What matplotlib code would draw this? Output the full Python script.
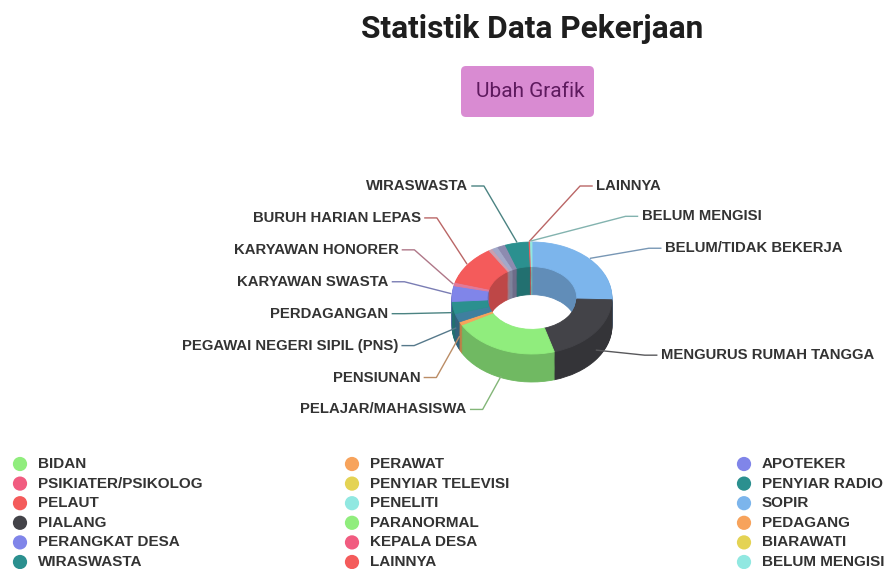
import matplotlib.pyplot as plt
import matplotlib.colors as mcolors
from matplotlib.patches import FancyBboxPatch
import numpy as np

# Slices, clockwise from 12 o'clock (values in percent)
slice_names = ["BELUM/TIDAK BEKERJA", "MENGURUS RUMAH TANGGA", "PELAJAR/MAHASISWA",
               "PENSIUNAN", "PEGAWAI NEGERI SIPIL (PNS)", "PERDAGANGAN",
               "KARYAWAN SWASTA", "KARYAWAN HONORER", "BURUH HARIAN LEPAS",
               "", "", "", "WIRASWASTA", "LAINNYA", "BELUM MENGISI"]
slice_values = [25.5, 20.0, 21.5, 1.0, 2.5, 3.5, 4.5, 1.0, 11.5,
                0.8, 1.2, 1.6, 4.8, 0.3, 0.3]
slice_colors = ["#7cb5ec", "#434348", "#90ed7d", "#f7a35c", "#3f7f9f", "#2b908f",
                "#8085e9", "#e07a9a", "#f45b5b", "#c9a0b0", "#a3a9c9", "#8d8bb0",
                "#2b908f", "#f45b5b", "#91e8e1"]

# Legend (row-major, 3 per row)
legend_names = ["BIDAN", "PERAWAT", "APOTEKER",
                "PSIKIATER/PSIKOLOG", "PENYIAR TELEVISI", "PENYIAR RADIO",
                "PELAUT", "PENELITI", "SOPIR",
                "PIALANG", "PARANORMAL", "PEDAGANG",
                "PERANGKAT DESA", "KEPALA DESA", "BIARAWATI",
                "WIRASWASTA", "LAINNYA", "BELUM MENGISI"]
legend_colors = ["#90ed7d", "#f7a35c", "#8085e9",
                 "#f15c80", "#e4d354", "#2b908f",
                 "#f45b5b", "#91e8e1", "#7cb5ec",
                 "#434348", "#90ed7d", "#f7a35c",
                 "#8085e9", "#f15c80", "#e4d354",
                 "#2b908f", "#f45b5b", "#91e8e1"]

# label slots: side (-1 left, 1 right) and row
label_slots = {
    "WIRASWASTA": (-1, 0), "BURUH HARIAN LEPAS": (-1, 1), "KARYAWAN HONORER": (-1, 2),
    "KARYAWAN SWASTA": (-1, 3), "PERDAGANGAN": (-1, 4),
    "PEGAWAI NEGERI SIPIL (PNS)": (-1, 5), "PENSIUNAN": (-1, 6),
    "PELAJAR/MAHASISWA": (-1, 7),
    "LAINNYA": (1, 0), "BELUM MENGISI": (1, 0.95), "BELUM/TIDAK BEKERJA": (1, 1.95),
    "MENGURUS RUMAH TANGGA": (1, 5.3),
}

W, H = 888, 569
CX, CY = 532, 298     # centre of the top face in px
RX, RY = 80, 56       # outer radius in px (squashed)
DEPTH = 0.5           # wall height in radius units
HOLE = 0.56


def shade(c, f):
    r, g, b = mcolors.to_rgb(c)
    return (r * f, g * f, b * f)


fig = plt.figure(figsize=(W / 100, H / 100), dpi=100)
ax = fig.add_axes([0, 0, 1, 1])

# side walls: stacked darker copies of the ring
steps = 30
for i in range(steps, 0, -1):
    off = DEPTH * i / steps
    wedges, _ = ax.pie(slice_values, colors=[shade(c, 0.78) for c in slice_colors],
                       startangle=90, counterclock=False, center=(0, -off),
                       wedgeprops=dict(width=1 - HOLE, linewidth=0.6))
    for w in wedges:
        w.set_edgecolor(w.get_facecolor())

# top face
wedges, _ = ax.pie(slice_values, colors=slice_colors, startangle=90, counterclock=False,
                   wedgeprops=dict(width=1 - HOLE, linewidth=0.6))
for w in wedges:
    w.set_edgecolor(w.get_facecolor())

ax.set_aspect("auto")
ax.set_xlim(-CX / RX, (W - CX) / RX)
ax.set_ylim(-(H - CY) / RY, CY / RY)
ax.axis("off")

# data labels with connectors
vals = np.array(slice_values)
mids = np.radians((np.cumsum(vals) - vals / 2) / vals.sum() * 360)
a, b = 1.81, 2.23
for name, th, col in zip(slice_names, mids, slice_colors):
    if not name:
        continue
    side, row = label_slots[name]
    y = 2.0 - row * 0.57
    x = side * a * np.sqrt(max(0.0, 1 - (y / b) ** 2))
    ax_x = np.sin(th) * 1.02
    ax_y = np.cos(th) * 1.02
    if np.cos(th) < 0:
        ax_y -= DEPTH * (-np.cos(th))
    lc = tuple(0.55 * np.array(mcolors.to_rgb(col)) + 0.45 * np.array([0.45, 0.45, 0.45]))
    ax.plot([x - side * 0.05, x - side * 0.2, ax_x], [y, y, ax_y],
            color=lc, lw=1, clip_on=False)
    ax.text(x, y, name, ha="right" if side < 0 else "left", va="center",
            fontsize=10.7, fontweight="bold", color="#333333",
            family="Liberation Sans")

# overlay in pixel coordinates for title, button and legend
ov = fig.add_axes([0, 0, 1, 1])
ov.set_xlim(0, W)
ov.set_ylim(H, 0)
ov.axis("off")

ov.text(532, 29, "Statistik Data Pekerjaan", ha="center", va="center",
        fontsize=22.8, fontweight="bold", color="#1e1e1e", family="Roboto")
ov.add_patch(FancyBboxPatch((461, 66), 133, 51, boxstyle="round,pad=0,rounding_size=5",
                            facecolor="#d98bd2", edgecolor="none"))
ov.text(530, 91, "Ubah Grafik", ha="center", va="center",
        fontsize=15, color="#5e1a5e", family="Roboto")

col_x = [20, 352, 744]
for i, (name, col) in enumerate(zip(legend_names, legend_colors)):
    r, c = divmod(i, 3)
    yy = 464 + r * 19.6
    ov.scatter(col_x[c], yy, s=105, color=col, edgecolors="none")
    ov.text(col_x[c] + 18, yy, name, ha="left", va="center", fontsize=11,
            fontweight="bold", color="#333333", family="Liberation Sans")

fig.savefig("out.png", dpi=100)
